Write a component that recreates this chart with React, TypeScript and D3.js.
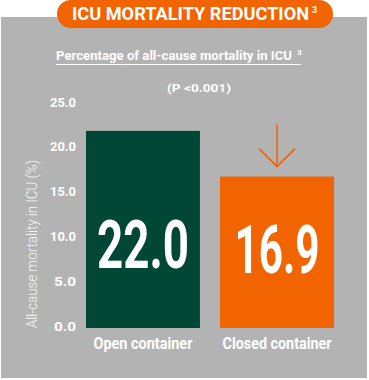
import React from "react";
import * as d3 from "d3";

const categories = ["Open container", "Closed container"];
const mortality = [22.0, 16.9];
const yTicks = [0, 5, 10, 15, 20, 25];

const colors = {
  panel: "#b3b3b3",
  green: "#004835",
  orange: "#f26400",
  white: "#ffffff",
};

const font = "Roboto, 'DejaVu Sans Condensed', sans-serif";

// text widths (the original font is condensed)
const valueWidths = [92, 85];
const labelWidths = [99, 109];

export default function App() {
  const width = 369;
  const height = 380;

  const x = d3
    .scaleBand<string>()
    .domain(categories)
    .range([86, 334])
    .paddingInner(0.15)
    .paddingOuter(0);

  const y = d3.scaleLinear().domain([0, 25]).range([328, 104]);

  const barColor = (i: number) => (i === 0 ? colors.green : colors.orange);

  const closedX = (x(categories[1]) as number) + x.bandwidth() / 2;
  const arrowTop = y(mortality[1]) - 52;
  const arrowTip = y(mortality[1]) - 10;

  return (
    <svg
      width={width}
      height={height}
      style={{ position: "absolute", left: 0, top: 0 }}
      fontFamily={font}
    >
      <rect x={1} y={17} width={366} height={361} fill={colors.panel} />

      <rect x={57} y={0} width={276} height={28} rx={14} fill={colors.orange} />
      <text x={72} y={20} fill={colors.white} fontSize={18} fontWeight="bold">
        <tspan textLength={237} lengthAdjust="spacingAndGlyphs">
          ICU MORTALITY REDUCTION
        </tspan>
        <tspan x={312} y={13} fontSize={9}>
          3
        </tspan>
      </text>

      <text x={56} y={60} fill={colors.white} fontSize={13.5} fontWeight="bold">
        <tspan textLength={236} lengthAdjust="spacingAndGlyphs">
          Percentage of all-cause mortality in ICU
        </tspan>
        <tspan x={297} y={55} fontSize={8}>
          3
        </tspan>
      </text>
      <line x1={56} x2={301} y1={64.5} y2={64.5} stroke={colors.white} strokeWidth={1} />

      <text
        x={167}
        y={92}
        fill={colors.white}
        fontSize={11}
        fontWeight="bold"
        textLength={64}
        lengthAdjust="spacingAndGlyphs"
      >
        (P &lt;0.001)
      </text>

      {yTicks.map((t) => (
        <text
          key={t}
          x={76}
          y={y(t) + 2.5}
          textAnchor="end"
          fill={colors.white}
          fontSize={13}
          fontWeight="bold"
          textLength={t < 10 ? 22 : 26}
          lengthAdjust="spacingAndGlyphs"
        >
          {t.toFixed(1)}
        </text>
      ))}

      <text
        transform={`translate(37, 328) rotate(-90)`}
        fill={colors.white}
        fontSize={14}
        fontWeight={300}
        opacity={0.9}
        textLength={168}
        lengthAdjust="spacingAndGlyphs"
      >
        All-cause mortality in ICU (%)
      </text>

      {categories.map((c, i) => {
        const cx = (x(c) as number) + x.bandwidth() / 2;
        return (
          <g key={c}>
            <rect
              x={x(c)}
              y={y(mortality[i])}
              width={x.bandwidth()}
              height={y(0) - y(mortality[i])}
              fill={barColor(i)}
            />
            <text
              x={cx - valueWidths[i] / 2}
              y={y(0) - 60 + i * 5}
              fill={colors.white}
              fontSize={66}
              fontWeight="bold"
              textLength={valueWidths[i]}
              lengthAdjust="spacingAndGlyphs"
            >
              {mortality[i].toFixed(1)}
            </text>
            <text
              x={cx - labelWidths[i] / 2}
              y={349}
              fill={colors.white}
              fontSize={16}
              fontWeight="bold"
              textLength={labelWidths[i]}
              lengthAdjust="spacingAndGlyphs"
            >
              {c}
            </text>
          </g>
        );
      })}

      <line
        x1={closedX}
        x2={closedX}
        y1={arrowTop}
        y2={arrowTip}
        stroke={colors.orange}
        strokeWidth={1.5}
      />
      <polyline
        points={`${closedX - 18},${arrowTip - 18} ${closedX},${arrowTip} ${closedX + 18},${arrowTip - 18}`}
        fill="none"
        stroke={colors.orange}
        strokeWidth={1.8}
      />
    </svg>
  );
}
